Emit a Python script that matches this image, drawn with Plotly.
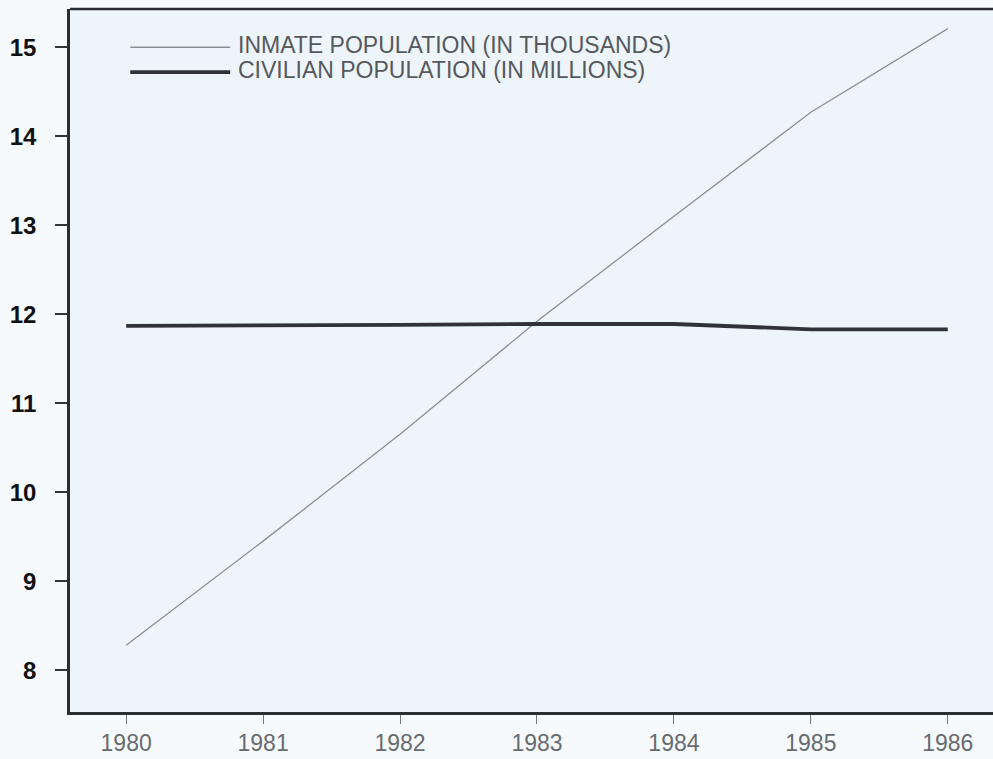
import plotly.graph_objects as go

years = [1980, 1981, 1982, 1983, 1984, 1985, 1986]
inmate_thousands = [8.28, 9.45, 10.65, 11.92, 13.10, 14.27, 15.21]
civilian_millions = [11.87, 11.87, 11.88, 11.89, 11.89, 11.83, 11.83]
y_ticks = [8, 9, 10, 11, 12, 13, 14, 15]
legend_labels = ["INMATE POPULATION (IN THOUSANDS)", "CIVILIAN POPULATION (IN MILLIONS)"]

thin = dict(color="#8a8f94", width=1.3)
thick = dict(color="#2f3338", width=3.8)

fig = go.Figure()
fig.add_trace(go.Scatter(x=years, y=inmate_thousands, mode="lines", line=thin, name=legend_labels[0]))
fig.add_trace(go.Scatter(x=years, y=civilian_millions, mode="lines", line=thick, name=legend_labels[1]))

# legend samples
fig.add_shape(type="line", xref="x", yref="y", x0=1980.03, x1=1980.76, y0=15.0, y1=15.0, line=thin)
fig.add_shape(type="line", xref="x", yref="y", x0=1980.03, x1=1980.76, y0=14.72, y1=14.72, line=thick)
leg_font = dict(family="Liberation Sans, Arial", size=23, color="#55595e")
fig.add_annotation(x=1980.80, y=15.03, xref="x", yref="y", text=legend_labels[0], showarrow=False,
                   xanchor="left", yanchor="middle", font=leg_font)
fig.add_annotation(x=1980.80, y=14.74, xref="x", yref="y", text=legend_labels[1], showarrow=False,
                   xanchor="left", yanchor="middle", font=leg_font)

fig.update_layout(
    width=993, height=759,
    margin=dict(l=70, r=0, t=9, b=47),
    paper_bgcolor="#f7fafc",
    plot_bgcolor="#eef5fa",
    showlegend=False,
)
fig.update_xaxes(range=[1979.59, 1986.33], tickvals=years, ticktext=[str(y) for y in years],
                 showgrid=False, zeroline=False, showline=True, linecolor="#2b2f33", linewidth=2.5,
                 ticks="outside", ticklen=9, tickcolor="#777", tickwidth=1.2,
                 tickfont=dict(family="Liberation Sans, Arial", size=23, color="#666b70"))
fig.update_yaxes(range=[7.53, 15.43], tickvals=y_ticks,
                 showgrid=False, zeroline=False, showline=True, linecolor="#2b2f33", linewidth=2.5,
                 ticks="outside", ticklen=12, tickcolor="#333", tickwidth=2, ticklabelstandoff=14,
                 tickfont=dict(family="Liberation Sans, Arial", size=24, color="#111", weight="bold"))
fig.add_shape(type="line", xref="paper", yref="paper", x0=0, x1=1, y0=1, y1=1,
              line=dict(color="#2b2f33", width=2.5))

fig.write_html("out.html", config={"displayModeBar": False},
               post_script="document.body.style.margin='0';document.body.style.overflow='hidden';")
